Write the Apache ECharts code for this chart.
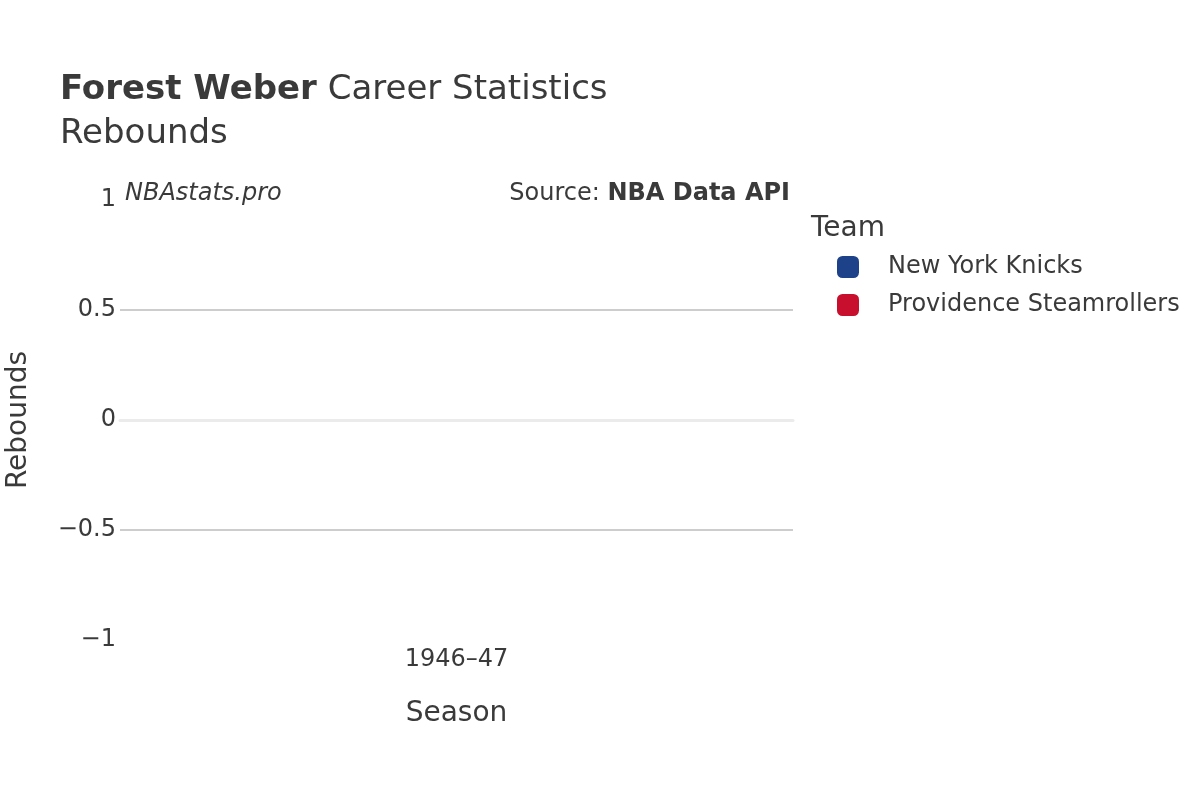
<!DOCTYPE html>
<html>
<head>
<meta charset="utf-8">
<script src="https://cdn.jsdelivr.net/npm/echarts@6/dist/echarts.min.js"></script>
<style>html,body{margin:0;padding:0;background:#fff;}#c{width:1200px;height:800px;}</style>
</head>
<body>
<div id="c"></div>
<script>
const seasons = ['1946–47'];
const teams = ['New York Knicks', 'Providence Steamrollers'];
const knicksRebounds = [0];
const steamrollersRebounds = [0];
const yTicks = [-1, -0.5, 0, 0.5, 1];
const teamColors = ['#1d428a', '#c8102e'];

const FONT = 'DejaVu Sans';
const TXT = '#3a3a3a';
const chart = echarts.init(document.getElementById('c'));
chart.setOption({
  backgroundColor: '#fff',
  animation: false,
  textStyle: { fontFamily: FONT },
  title: [
    { text: '{b|Forest Weber} Career Statistics', left: 60, top: 73, padding: 0,
      textStyle: { fontFamily: FONT, fontSize: 34, fontWeight: 'normal', color: TXT,
        rich: { b: { fontFamily: FONT, fontSize: 34, fontWeight: 'bold', color: TXT } } } },
    { text: 'Rebounds', left: 60, top: 117, padding: 0, textStyle: { fontFamily: FONT, fontSize: 34, fontWeight: 'normal', color: TXT } },
    { text: 'NBAstats.pro', left: 125, top: 182, padding: 0, textStyle: { fontFamily: FONT, fontSize: 24, fontStyle: 'italic', fontWeight: 'normal', color: TXT } },
    { text: 'Source: {b|NBA Data API}', right: 410, top: 182, padding: 0,
      textStyle: { fontFamily: FONT, fontSize: 24, fontWeight: 'normal', color: TXT,
        rich: { b: { fontFamily: FONT, fontSize: 24, fontWeight: 'bold', color: TXT } } } },
    { text: 'Team', left: 811, top: 215, padding: 0, textStyle: { fontFamily: FONT, fontSize: 28, fontWeight: 'normal', color: TXT } }
  ],
  legend: {
    data: teams, orient: 'vertical', left: 837, top: 255, padding: 0,
    itemWidth: 22, itemHeight: 22, itemGap: 14, icon: 'roundRect',
    textStyle: { fontFamily: FONT, fontSize: 24, color: TXT, padding: [0, 0, 0, 24] }
  },
  grid: { left: 120, right: 407, top: 200, bottom: 160, containLabel: false, outerBoundsMode: 'none' },
  xAxis: {
    type: 'category', data: seasons,
    name: 'Season', nameLocation: 'middle', nameGap: 60,
    nameTextStyle: { fontFamily: FONT, fontSize: 28, color: TXT },
    axisLine: { show: true, onZero: true, lineStyle: { color: '#ebebeb', width: 3 } },
    axisTick: { show: false },
    axisLabel: { fontFamily: FONT, fontSize: 24, color: TXT, margin: 8 },
    splitLine: { show: false }
  },
  yAxis: {
    type: 'value', min: -1, max: 1, interval: 0.5,
    name: 'Rebounds', nameLocation: 'middle', nameGap: 87, nameRotate: 90,
    nameTextStyle: { fontFamily: FONT, fontSize: 28, color: TXT },
    axisLine: { show: false }, axisTick: { show: false },
    axisLabel: { fontFamily: FONT, fontSize: 24, color: TXT, margin: 4,
      formatter: v => String(v).replace('-', '\u2212') },
    splitLine: { show: true, lineStyle: { width: 1.5,
      color: yTicks.map(t => (Math.abs(t) === 1 || t === 0) ? 'rgba(0,0,0,0)' : '#bdbdbd') } }
  },
  series: [
    { name: teams[0], type: 'bar', data: knicksRebounds, itemStyle: { color: teamColors[0] }, barGap: '0%', barCategoryGap: '20%' },
    { name: teams[1], type: 'bar', data: steamrollersRebounds, itemStyle: { color: teamColors[1] } }
  ]
});
</script>
</body>
</html>
